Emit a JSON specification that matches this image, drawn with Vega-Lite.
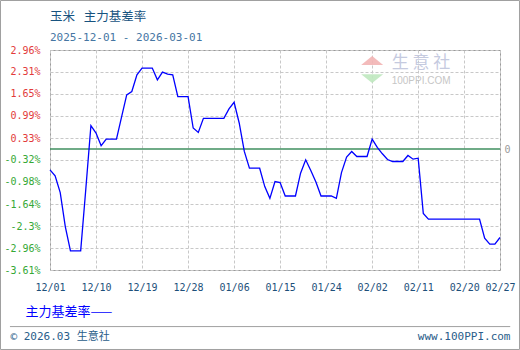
{
  "$schema": "https://vega.github.io/schema/vega-lite/v6.json",
  "width": 450,
  "height": 220,
  "autosize": {"type": "none"},
  "padding": {"left": 50, "top": 50, "right": 20, "bottom": 80},
  "background": "white",
  "title": {
    "text": "玉米\u2002\u2009主力基差率",
    "subtitle": "2025-12-01 - 2026-03-01",
    "anchor": "start",
    "frame": "group",
    "offset": -43,
    "font": "Noto Sans CJK SC",
    "fontSize": 12.5,
    "fontWeight": "normal",
    "color": "#17537f",
    "subtitleFont": "DejaVu Sans Mono",
    "subtitleFontSize": 11,
    "subtitleColor": "#4676a3",
    "subtitlePadding": 8.5
  },
  "config": {
    "view": {"stroke": "#9a9a9a", "strokeWidth": 1},
    "axis": {"domain": false, "ticks": false}
  },
  "resolve": {"scale": {"y": "shared", "x": "shared"}, "axis": {"y": "independent", "x": "independent"}},
  "layer": [
    {
      "data": {"values": [{}]},
      "mark": {"type": "rule", "color": "#3f8f5f", "strokeWidth": 1.5},
      "encoding": {
        "y": {
          "datum": 0,
          "type": "quantitative",
          "axis": {
            "orient": "right",
            "values": [0],
            "labelExpr": "'0'",
            "labelColor": "#9a9a9a",
            "labelFont": "DejaVu Sans Mono",
            "labelFontSize": 10,
            "labelPadding": 4,
            "grid": false,
            "title": "www.100PPI.com",
            "titleAngle": 0,
            "titleAlign": "right",
            "titleBaseline": "middle",
            "titleX": 10,
            "titleY": 286,
            "titleFont": "DejaVu Sans Mono",
            "titleFontSize": 11,
            "titleFontWeight": "normal",
            "titleColor": "#2a5d8a"
          }
        }
      }
    },
    {
      "data": {"values": [
        {"date": "2025-12-01", "rate": -0.62},
        {"date": "2025-12-02", "rate": -0.80},
        {"date": "2025-12-03", "rate": -1.30},
        {"date": "2025-12-04", "rate": -2.32},
        {"date": "2025-12-05", "rate": -3.04},
        {"date": "2025-12-06", "rate": -3.04},
        {"date": "2025-12-07", "rate": -3.04},
        {"date": "2025-12-08", "rate": -1.20},
        {"date": "2025-12-09", "rate": 0.70},
        {"date": "2025-12-10", "rate": 0.48},
        {"date": "2025-12-11", "rate": 0.10},
        {"date": "2025-12-12", "rate": 0.30},
        {"date": "2025-12-13", "rate": 0.30},
        {"date": "2025-12-14", "rate": 0.30},
        {"date": "2025-12-15", "rate": 0.96},
        {"date": "2025-12-16", "rate": 1.62},
        {"date": "2025-12-17", "rate": 1.72},
        {"date": "2025-12-18", "rate": 2.22},
        {"date": "2025-12-19", "rate": 2.42},
        {"date": "2025-12-20", "rate": 2.42},
        {"date": "2025-12-21", "rate": 2.42},
        {"date": "2025-12-22", "rate": 2.07},
        {"date": "2025-12-23", "rate": 2.30},
        {"date": "2025-12-24", "rate": 2.24},
        {"date": "2025-12-25", "rate": 2.22},
        {"date": "2025-12-26", "rate": 1.57},
        {"date": "2025-12-27", "rate": 1.57},
        {"date": "2025-12-28", "rate": 1.57},
        {"date": "2025-12-29", "rate": 0.63},
        {"date": "2025-12-30", "rate": 0.50},
        {"date": "2025-12-31", "rate": 0.92},
        {"date": "2026-01-01", "rate": 0.92},
        {"date": "2026-01-02", "rate": 0.92},
        {"date": "2026-01-03", "rate": 0.92},
        {"date": "2026-01-04", "rate": 0.92},
        {"date": "2026-01-05", "rate": 1.20},
        {"date": "2026-01-06", "rate": 1.40},
        {"date": "2026-01-07", "rate": 0.78},
        {"date": "2026-01-08", "rate": -0.07},
        {"date": "2026-01-09", "rate": -0.57},
        {"date": "2026-01-10", "rate": -0.57},
        {"date": "2026-01-11", "rate": -0.57},
        {"date": "2026-01-12", "rate": -1.12},
        {"date": "2026-01-13", "rate": -1.47},
        {"date": "2026-01-14", "rate": -0.97},
        {"date": "2026-01-15", "rate": -1.00},
        {"date": "2026-01-16", "rate": -1.40},
        {"date": "2026-01-17", "rate": -1.40},
        {"date": "2026-01-18", "rate": -1.40},
        {"date": "2026-01-19", "rate": -0.72},
        {"date": "2026-01-20", "rate": -0.32},
        {"date": "2026-01-21", "rate": -0.64},
        {"date": "2026-01-22", "rate": -0.98},
        {"date": "2026-01-23", "rate": -1.40},
        {"date": "2026-01-24", "rate": -1.40},
        {"date": "2026-01-25", "rate": -1.40},
        {"date": "2026-01-26", "rate": -1.47},
        {"date": "2026-01-27", "rate": -0.70},
        {"date": "2026-01-28", "rate": -0.24},
        {"date": "2026-01-29", "rate": -0.07},
        {"date": "2026-01-30", "rate": -0.22},
        {"date": "2026-01-31", "rate": -0.22},
        {"date": "2026-02-01", "rate": -0.22},
        {"date": "2026-02-02", "rate": 0.30},
        {"date": "2026-02-03", "rate": 0.05},
        {"date": "2026-02-04", "rate": -0.14},
        {"date": "2026-02-05", "rate": -0.31},
        {"date": "2026-02-06", "rate": -0.37},
        {"date": "2026-02-07", "rate": -0.37},
        {"date": "2026-02-08", "rate": -0.37},
        {"date": "2026-02-09", "rate": -0.19},
        {"date": "2026-02-10", "rate": -0.30},
        {"date": "2026-02-11", "rate": -0.27},
        {"date": "2026-02-12", "rate": -1.92},
        {"date": "2026-02-13", "rate": -2.09},
        {"date": "2026-02-14", "rate": -2.09},
        {"date": "2026-02-15", "rate": -2.09},
        {"date": "2026-02-16", "rate": -2.09},
        {"date": "2026-02-17", "rate": -2.09},
        {"date": "2026-02-18", "rate": -2.09},
        {"date": "2026-02-19", "rate": -2.09},
        {"date": "2026-02-20", "rate": -2.09},
        {"date": "2026-02-21", "rate": -2.09},
        {"date": "2026-02-22", "rate": -2.09},
        {"date": "2026-02-23", "rate": -2.09},
        {"date": "2026-02-24", "rate": -2.66},
        {"date": "2026-02-25", "rate": -2.84},
        {"date": "2026-02-26", "rate": -2.84},
        {"date": "2026-02-27", "rate": -2.64}
      ]},
      "mark": {"type": "line", "color": "#0000ff", "strokeWidth": 1.3},
      "encoding": {
        "x": {
          "field": "date",
          "type": "temporal",
          "scale": {
            "type": "utc",
            "domain": [
              {"year": 2025, "month": "dec", "date": 1, "utc": true},
              {"year": 2026, "month": "feb", "date": 27, "utc": true}
            ]
          },
          "axis": {
            "orient": "bottom",
            "values": [
              {"year": 2025, "month": "dec", "date": 1, "utc": true},
              {"year": 2025, "month": "dec", "date": 10, "utc": true},
              {"year": 2025, "month": "dec", "date": 19, "utc": true},
              {"year": 2025, "month": "dec", "date": 28, "utc": true},
              {"year": 2026, "month": "jan", "date": 6, "utc": true},
              {"year": 2026, "month": "jan", "date": 15, "utc": true},
              {"year": 2026, "month": "jan", "date": 24, "utc": true},
              {"year": 2026, "month": "feb", "date": 2, "utc": true},
              {"year": 2026, "month": "feb", "date": 11, "utc": true},
              {"year": 2026, "month": "feb", "date": 20, "utc": true},
              {"year": 2026, "month": "feb", "date": 27, "utc": true}
            ],
            "format": "%m/%d",
            "labelFont": "DejaVu Sans Mono",
            "labelFontSize": 10,
            "labelColor": "#1d4f7a",
            "labelPadding": 12,
            "labelOverlap": false,
            "labelFlush": false,
            "labelBound": false,
            "grid": true,
            "gridColor": "#c8c8c8",
            "gridDash": [3, 2],
            "title": "主力基差率——",
            "titleX": -25,
            "titleY": 41,
            "titleAlign": "left",
            "titleBaseline": "middle",
            "titleFont": "Noto Sans CJK SC",
            "titleFontSize": 13,
            "titleFontWeight": "normal",
            "titleColor": "#0000ff"
          }
        },
        "y": {
          "field": "rate",
          "type": "quantitative",
          "scale": {"domain": [-3.61, 2.96], "nice": false, "zero": false},
          "axis": {
            "orient": "left",
            "values": [2.96, 2.31, 1.65, 0.99, 0.33, -0.32, -0.98, -1.64, -2.3, -2.96, -3.61],
            "labelExpr": "datum.value + '%'",
            "labelColor": {"condition": {"test": "datum.value > 0", "value": "#e23b3b"}, "value": "#35a835"},
            "labelFont": "DejaVu Sans Mono",
            "labelFontSize": 10,
            "labelPadding": 10,
            "labelOverlap": false,
            "grid": true,
            "gridColor": "#c8c8c8",
            "gridDash": [3, 2],
            "title": "© 2026.03 生意社",
            "titleAngle": 0,
            "titleAlign": "left",
            "titleBaseline": "middle",
            "titleX": -40,
            "titleY": 286,
            "titleFont": "DejaVu Sans Mono, Noto Sans CJK SC",
            "titleFontSize": 11,
            "titleFontWeight": "normal",
            "titleColor": "#2a5d8a"
          }
        }
      }
    },
    {
      "data": {"values": [{}]},
      "mark": {"type": "rule", "color": "#a0a0a0", "strokeWidth": 1},
      "encoding": {
        "x": {"datum": {"year": 2025, "month": "nov", "date": 23, "hours": 4, "utc": true}, "type": "temporal", "axis": null},
        "x2": {"datum": {"year": 2026, "month": "mar", "date": 1, "utc": true}},
        "y": {"datum": -5.30, "type": "quantitative", "axis": null}
      }
    },
    {
      "data": {"values": [{}]},
      "mark": {"type": "rect", "fill": "transparent", "stroke": "#a0a0a0", "strokeWidth": 1},
      "encoding": {
        "x": {"datum": {"year": 2025, "month": "nov", "date": 21, "hours": 7, "minutes": 41, "utc": true}, "type": "temporal", "axis": null},
        "x2": {"datum": {"year": 2026, "month": "mar", "date": 2, "hours": 19, "minutes": 27, "utc": true}},
        "y": {"datum": 4.438, "type": "quantitative", "axis": null},
        "y2": {"datum": -5.984}
      }
    },
    {
      "data": {"values": [{}]},
      "mark": {"type": "point", "shape": "M-1,0.4L0,-0.4L1,0.4Z", "filled": true, "color": "#f2b4b4", "opacity": 0.9, "size": 484},
      "encoding": {
        "x": {"datum": {"year": 2026, "month": "feb", "date": 2, "utc": true}, "type": "temporal", "axis": null},
        "y": {"datum": 2.646, "type": "quantitative", "axis": null}
      }
    },
    {
      "data": {"values": [{}]},
      "mark": {"type": "point", "shape": "M-1,-0.4L0,0.4L1,-0.4Z", "filled": true, "color": "#bfe8bf", "opacity": 0.9, "size": 484},
      "encoding": {
        "x": {"datum": {"year": 2026, "month": "feb", "date": 2, "utc": true}, "type": "temporal", "axis": null},
        "y": {"datum": 2.108, "type": "quantitative", "axis": null}
      }
    },
    {
      "data": {"values": [{}]},
      "mark": {"type": "text", "text": "生 意 社", "font": "Noto Sans CJK SC", "fontSize": 17, "color": "#c5cadf", "align": "left", "baseline": "middle"},
      "encoding": {
        "x": {"datum": {"year": 2026, "month": "feb", "date": 5, "hours": 19, "minutes": 40, "utc": true}, "type": "temporal", "axis": null},
        "y": {"datum": 2.557, "type": "quantitative", "axis": null}
      }
    },
    {
      "data": {"values": [{}]},
      "mark": {"type": "text", "text": "100PPI.COM", "font": "Liberation Sans", "fontSize": 10, "color": "#c6c6c6", "align": "left", "baseline": "middle"},
      "encoding": {
        "x": {"datum": {"year": 2026, "month": "feb", "date": 5, "hours": 19, "minutes": 40, "utc": true}, "type": "temporal", "axis": null},
        "y": {"datum": 2.043, "type": "quantitative", "axis": null}
      }
    }
  ]
}
